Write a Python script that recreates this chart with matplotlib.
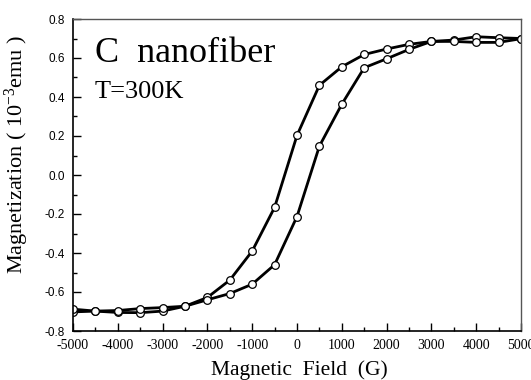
import matplotlib
matplotlib.use("Agg")
import matplotlib.pyplot as plt
import numpy as np
from matplotlib.ticker import MultipleLocator

plt.rcParams['mathtext.fontset'] = 'custom'
plt.rcParams['mathtext.rm'] = 'Liberation Serif'
plt.rcParams['mathtext.it'] = 'Liberation Serif:italic'
plt.rcParams['mathtext.default'] = 'rm'

field_down = [5000, 4500, 4000, 3500, 3000, 2500, 2000, 1500, 1000, 500, 0,
              -500, -1000, -1500, -2000, -2500, -3000, -3500, -4000, -4500, -5000]
mag_down = [0.700, 0.704, 0.709, 0.692, 0.685, 0.670, 0.646, 0.618, 0.555, 0.460, 0.203,
            -0.166, -0.390, -0.539, -0.628, -0.673, -0.698, -0.706, -0.705, -0.698, -0.702]
field_up = [-5000, -4500, -4000, -3500, -3000, -2500, -2000, -1500, -1000, -500, 0,
            500, 1000, 1500, 2000, 2500, 3000, 3500, 4000, 4500, 5000]
mag_up = [-0.688, -0.698, -0.695, -0.685, -0.680, -0.673, -0.640, -0.608, -0.560, -0.460, -0.213,
          0.148, 0.363, 0.550, 0.596, 0.644, 0.685, 0.685, 0.680, 0.680, 0.699]
xticks = [-5000, -4000, -3000, -2000, -1000, 0, 1000, 2000, 3000, 4000, 5000]
yticks = [-0.8, -0.6, -0.4, -0.2, 0.0, 0.2, 0.4, 0.6, 0.8]

fig = plt.figure(figsize=(5.31, 3.8), dpi=100)
ax = fig.add_axes([73/531, 1-331/380, 448/531, 312/380])

for xs, ys in [(field_down, mag_down), (field_up, mag_up)]:
    ax.plot(xs, ys, color='black', lw=2, marker='o', markersize=5.5,
            markerfacecolor='white', markeredgecolor='black', markeredgewidth=0.9)

ax.set_xlim(-5000, 5000)
ax.set_ylim(-0.8, 0.8)
ax.set_xticks(xticks)
ax.set_yticks(yticks)
ax.set_xticklabels([str(v) for v in xticks])
ax.set_yticklabels([f"{v:.1f}" for v in yticks])
for lab in ax.get_xticklabels():
    lab.set_fontfamily('Liberation Serif')
    lab.set_fontsize(10)
for lab in ax.get_yticklabels():
    lab.set_fontfamily('Liberation Sans')
    lab.set_fontsize(8.5)
ax.xaxis.set_minor_locator(MultipleLocator(500))
ax.yaxis.set_minor_locator(MultipleLocator(0.1))
ax.tick_params(which='major', direction='in', length=6, width=1, top=False, right=False)
ax.tick_params(which='minor', direction='in', length=3, width=1, top=False, right=False)
ax.tick_params(axis='x', pad=6)
ax.tick_params(axis='y', pad=6)
for s in ['left', 'bottom']:
    ax.spines[s].set_linewidth(1.2)
for s in ['top', 'right']:
    ax.spines[s].set_linewidth(1.0)
    ax.spines[s].set_color('#555555')

ax.set_xlabel('Magnetic  Field  (G)', fontfamily='Liberation Serif', fontsize=15.5)
ax.xaxis.set_label_coords(0.505, -0.095)
ax.set_ylabel('Magnetization ( 10$^{-3}$emu )', fontfamily='Liberation Serif', fontsize=16)
ax.yaxis.set_label_coords(-0.093, 0.565)

fig.text(95/531, 1-62/380, 'C  nanofiber', fontfamily='Liberation Serif', fontsize=26, ha='left', va='baseline')
fig.text(95/531, 1-98/380, 'T=300K', fontfamily='Liberation Serif', fontsize=19, ha='left', va='baseline')

fig.savefig('out.png', dpi=100)
